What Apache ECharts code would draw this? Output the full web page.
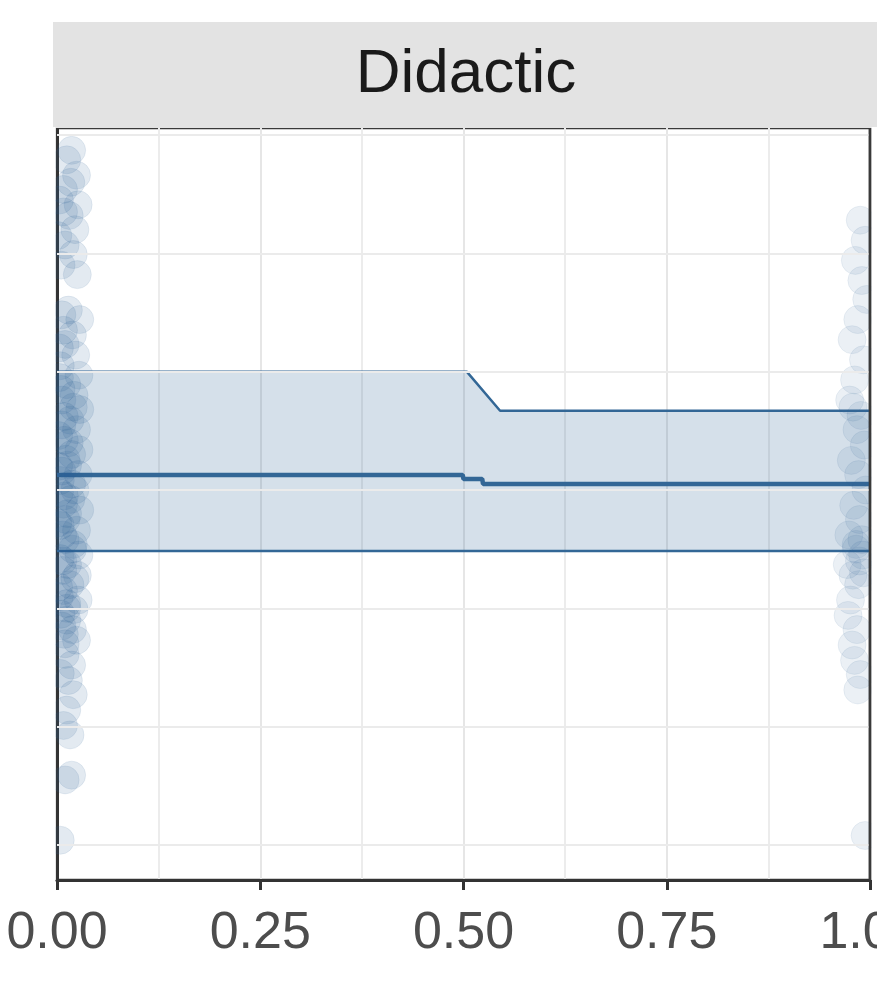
<!DOCTYPE html>
<html>
<head>
<meta charset="utf-8">
<script src="https://cdn.jsdelivr.net/npm/echarts@6/dist/echarts.min.js"></script>
<style>html,body{margin:0;padding:0;background:#fff}#c{width:877px;height:1004px}</style>
</head>
<body>
<div id="c"></div>
<script>
var panelTitle = 'Didactic';
var yGridValues = [0, 1, 2, 3, 4, 5, 6];

// ribbon (upper / lower bound) and fitted line
var upperX = [0, 0.504, 0.545, 1];
var upperY = [4.00, 4.00, 3.67, 3.67];
var lowerX = [0, 1];
var lowerY = [2.485, 2.485];
var fitX = [0, 0.499, 0.500, 0.523, 0.524, 1];
var fitY = [3.127, 3.127, 3.093, 3.093, 3.051, 3.051];

// jittered observations at x = 0
var leftX = [0.018,0.012,0.024,0.008,0.026,0.015,0.022,0.010,0.020,0.005,0.025,
             0.014,0.028,0.019,0.010,0.023,0.027,0.012,0.021,0.006,0.028,0.016,
             0.024,0.009,0.027,0.018,0.013,0.026,0.004,0.022,0.017,0.028,0.011,
             0.024,0.007,0.020,0.027,0.013,0.025,0.016,0.008,0.026,0.021,0.012,
             0.019,0.024,0.010,0.018,0.014,0.020,0.012,0.008,0.016,0.018,0.010,0.004,
             0.003,0.020,0.006,0.015,0.002,0.018,0.009,0.013,0.004,0.019,0.007,
             0.022,0.003,0.012,0.006,0.010,0.004,0.008,0.003,0.017,
             0.005,0.009,0.002,0.011,0.006,0.003,0.008,0.001,0.010,0.004,0.007,0.002,
             0.012,0.005,0.009,0.003,0.006,0.001,0.008,0.004];
var leftY = [5.87,5.79,5.66,5.54,5.41,5.32,5.20,5.07,4.99,4.90,4.82,
             4.52,4.44,4.31,4.23,4.14,3.97,3.89,3.80,3.76,3.68,3.59,
             3.51,3.42,3.34,3.30,3.21,3.13,3.08,3.00,2.92,2.83,2.75,
             2.66,2.62,2.54,2.45,2.37,2.28,2.20,2.15,2.07,1.99,1.90,
             1.82,1.73,1.61,1.52,1.39,1.27,1.14,1.01,0.93,0.59,0.55,0.04,
             3.95,3.70,3.55,3.40,3.20,3.05,2.95,2.80,2.70,2.50,2.40,
             2.25,2.10,2.00,1.85,1.70,4.05,4.35,5.45,5.60,
             3.85,3.62,3.46,3.26,3.16,2.98,2.88,2.72,2.58,2.42,2.32,2.18,
             2.04,1.95,1.78,4.20,4.48,5.15,5.35,1.45];

// jittered observations at x = 1
var rightX = [0.988,0.994,0.982,0.990,0.996,0.985,0.978,0.992,0.981,0.975,0.989,
              0.984,0.993,0.977,0.986,0.995,0.980,0.987,0.974,0.983,0.991,0.972,
              0.979,0.986,0.976,0.973,0.984,0.978,0.981,0.988,0.985,0.994,
              0.990,0.983,0.987,0.979,0.992];
var rightY = [5.28,5.11,4.94,4.77,4.61,4.44,4.27,4.10,3.93,3.76,3.63,
              3.51,3.38,3.25,3.13,3.00,2.87,2.75,2.62,2.54,2.45,2.37,
              2.28,2.20,2.07,1.94,1.82,1.69,1.56,1.44,1.31,0.08,
              2.58,2.50,2.40,3.70,2.30];

function pairs(xs, ys) { return xs.map(function (x, i) { return [x, ys[i]]; }); }

var lineColor = '#336796';
var chart = echarts.init(document.getElementById('c'), null, {renderer: 'canvas'});
chart.setOption({
  animation: false,
  backgroundColor: '#ffffff',
  grid: {left: 57, right: 7, top: 128, bottom: 124, containLabel: false, outerBoundsMode: 'none',
         show: true, borderColor: '#3a3a3a', borderWidth: 2.5, backgroundColor: 'transparent'},
  xAxis: {
    type: 'value', min: 0, max: 1, interval: 0.25,
    axisLine: {show: true, onZero: false, lineStyle: {color: '#333333', width: 3}},
    axisTick: {show: true, length: 10, lineStyle: {color: '#333333', width: 3}},
    axisLabel: {
      color: '#4d4d4d', fontSize: 52, fontFamily: 'Liberation Sans, Arial, sans-serif', margin: 28,
      hideOverlap: false, showMinLabel: true, showMaxLabel: true,
      formatter: function (v) { return v.toFixed(2); }
    },
    splitLine: {show: true, lineStyle: {color: '#e6e6e6', width: 2}},
    minorTick: {show: false, splitNumber: 2},
    minorSplitLine: {show: true, lineStyle: {color: '#ececec', width: 2}}
  },
  yAxis: {
    type: 'value', min: -0.296, max: 6.059,
    axisLine: {show: true, onZero: false, lineStyle: {color: '#333333', width: 3}},
    axisTick: {show: false}, axisLabel: {show: false}, splitLine: {show: false}
  },
  graphic: [
    {type: 'rect', left: 53, top: 22, shape: {width: 824, height: 106}, style: {fill: '#e3e3e3'}, z: 100},
    {type: 'text', x: 466, y: 75, style: {text: panelTitle, fill: '#1a1a1a', font: '62px "Liberation Sans", Arial, sans-serif', textAlign: 'center', textVerticalAlign: 'middle'}, z: 101},
    {type: 'rect', left: 0, top: 127, shape: {width: 55.5, height: 753}, style: {fill: '#ffffff'}, z: 100},
    {type: 'rect', left: 871.5, top: 127, shape: {width: 6, height: 753}, style: {fill: '#ffffff'}, z: 100},
    {type: 'line', shape: {x1: 870, y1: 128, x2: 870, y2: 880}, style: {stroke: '#3a3a3a', lineWidth: 2.5}, z: 101}
  ],
  series: [
    {
      type: 'line', data: [], z: 0, silent: true,
      markLine: {
        silent: true, symbol: ['none', 'none'], label: {show: false},
        lineStyle: {color: '#ebebeb', width: 2, type: 'solid'},
        data: yGridValues.map(function (v) { return {yAxis: v}; })
      }
    },
    {
      type: 'custom', z: 1, silent: true,
      data: [0],
      renderItem: function (params, api) {
        var pts = [];
        for (var i = 0; i < upperX.length; i++) pts.push(api.coord([upperX[i], upperY[i]]));
        for (var j = lowerX.length - 1; j >= 0; j--) pts.push(api.coord([lowerX[j], lowerY[j]]));
        return {type: 'polygon', shape: {points: pts}, style: {fill: 'rgba(46,100,148,0.2)'}};
      }
    },
    {type: 'line', data: pairs(upperX, upperY), symbol: 'none', z: 3, lineStyle: {color: lineColor, width: 2.5}},
    {type: 'line', data: pairs(lowerX, lowerY), symbol: 'none', z: 3, lineStyle: {color: lineColor, width: 2.5}},
    {type: 'line', data: pairs(fitX, fitY), symbol: 'none', z: 3, lineStyle: {color: lineColor, width: 4.5}},
    {
      type: 'scatter', data: pairs(leftX, leftY), symbolSize: 28, z: 4, clip: false,
      itemStyle: {color: 'rgba(46,100,148,0.17)', borderColor: 'rgba(46,100,148,0.12)', borderWidth: 1}
    },
    {
      type: 'scatter', data: pairs(rightX, rightY), symbolSize: 28, z: 4, clip: false,
      itemStyle: {color: 'rgba(46,100,148,0.12)', borderColor: 'rgba(46,100,148,0.10)', borderWidth: 1}
    }
  ]
});
</script>
</body>
</html>
